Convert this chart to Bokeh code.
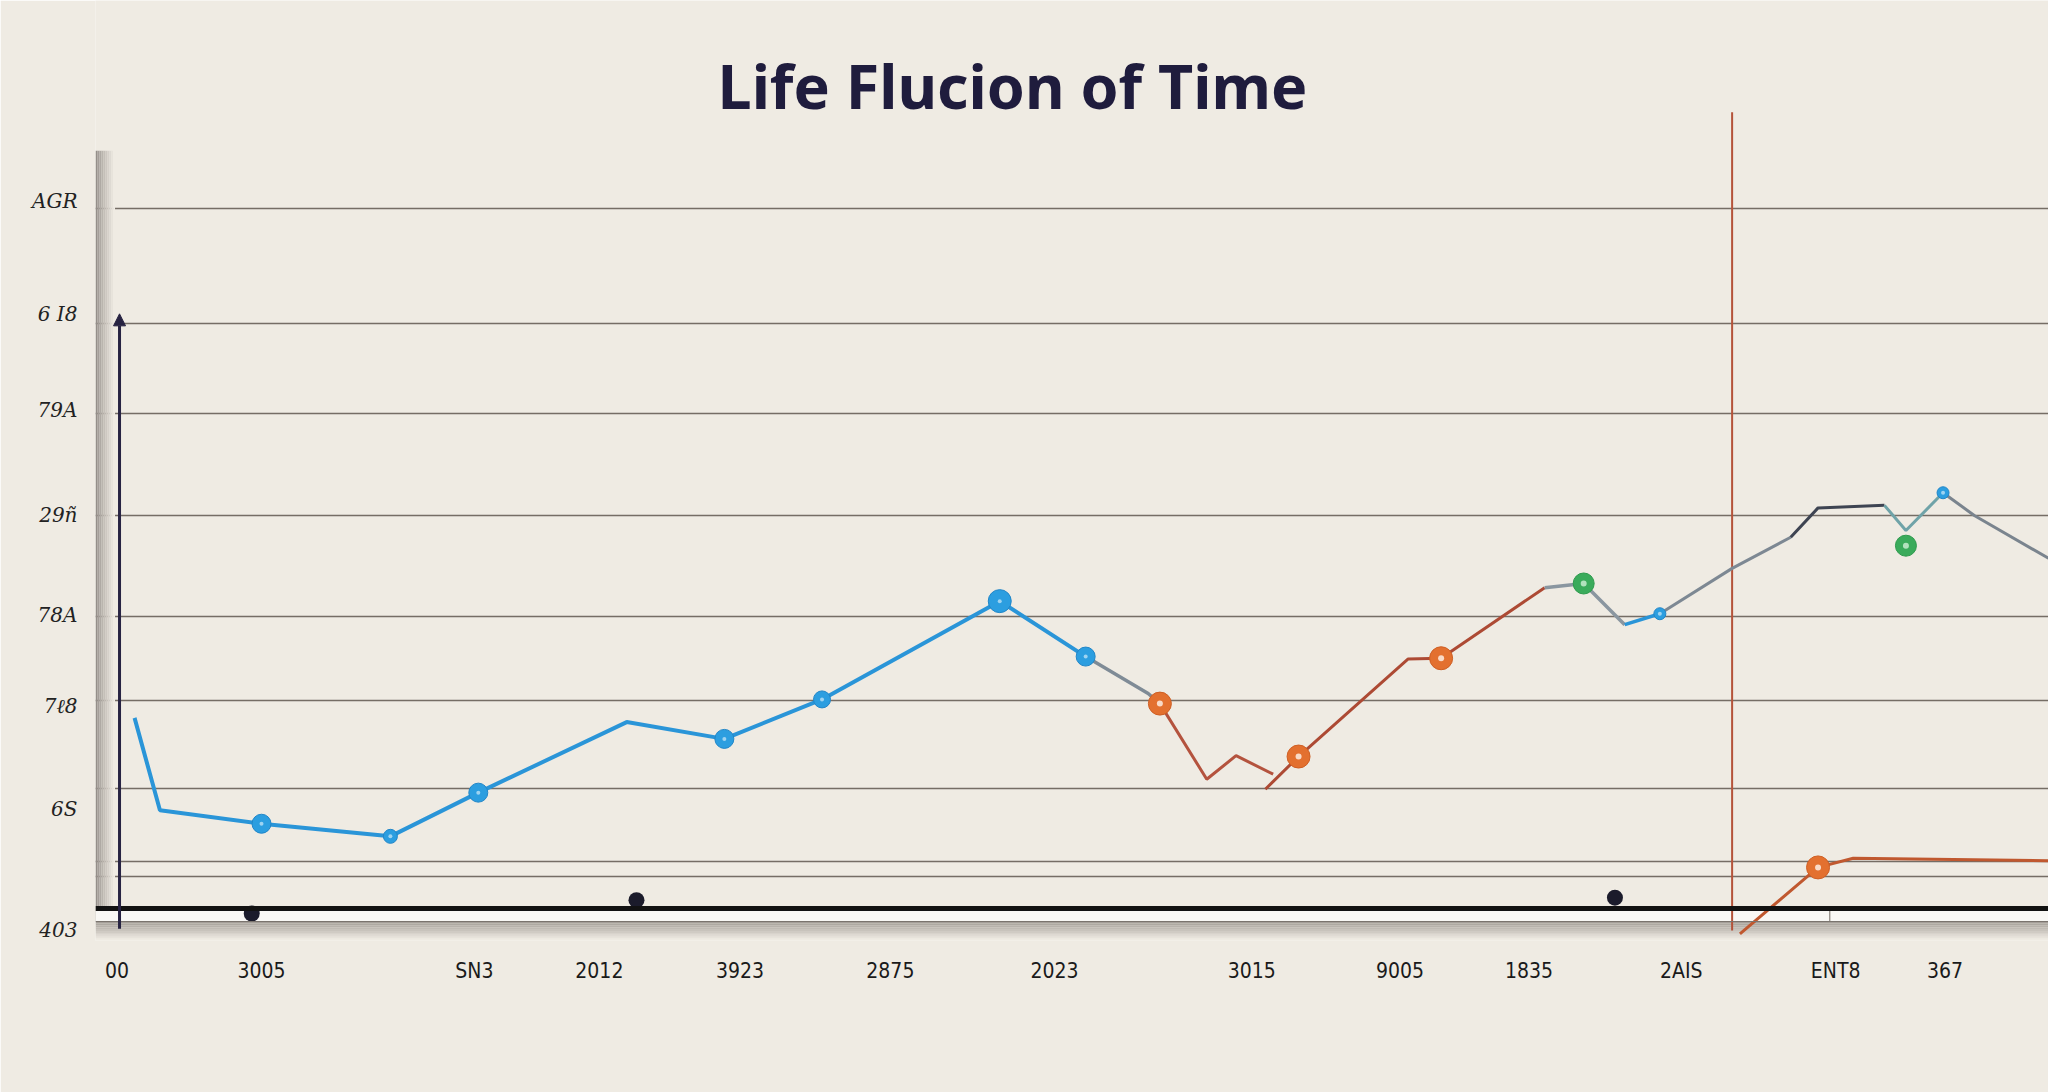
from bokeh.plotting import figure
from bokeh.models import Range1d, FixedTicker, Span, Arrow, NormalHead, Label
from bokeh.embed import file_html
from bokeh.resources import INLINE

# ---------------- data ----------------
x_tick_pos = [1.1, 8.5, 19.4, 25.8, 33.0, 40.7, 49.1, 59.2, 66.8, 73.4, 81.2, 89.1, 94.7]
x_tick_labels = ["00", "3005", "SN3", "2012", "3923", "2875", "2023", "3015", "9005", "1835", "2AIS", "ENT8", "367"]

y_tick_pos = [88.0, 74.6, 63.1, 50.6, 38.8, 27.9, 15.7, 1.2]
y_tick_labels = ["AGR", "6 I8", "79A", "29ñ", "78A", "7ℓ8", "6S", "403"]

y_grid = [87.1, 73.5, 62.7, 50.6, 38.6, 28.6, 18.1, 9.4, 7.6]

blue_x = [2.0, 3.3, 8.5, 15.1, 19.6, 27.2, 32.2, 37.2, 46.3, 50.7]
blue_y = [26.5, 15.5, 13.9, 12.4, 17.6, 26.0, 24.0, 28.7, 40.4, 33.8]
blue_mx = [8.5, 15.1, 19.6, 32.2, 37.2, 46.3, 50.7, 80.1, 94.6]
blue_my = [13.9, 12.4, 17.6, 24.0, 28.7, 40.4, 33.8, 38.9, 53.3]
blue_ms = [19, 14, 19, 19, 17, 23, 19, 12, 12]

link_x = [50.7, 53.9, 54.5]
link_y = [33.8, 29.4, 28.2]

red1_x = [54.5, 56.9, 58.4, 60.3]
red1_y = [28.2, 19.2, 22.0, 19.8]
red2_x = [59.9, 61.6, 67.2, 68.9, 74.2]
red2_y = [18.0, 21.9, 33.5, 33.6, 42.0]
red3_x = [84.2, 88.2, 90.0, 100.0]
red3_y = [0.8, 8.7, 9.8, 9.5]

gray2_x = [74.2, 76.2, 78.3]
gray2_y = [42.0, 42.5, 37.6]
blue2_x = [78.3, 80.1]
blue2_y = [37.6, 38.9]
gray3a_x = [80.1, 83.8, 86.8]
gray3a_y = [38.9, 44.3, 48.0]
gray3b_x = [86.8, 88.2, 91.6]
gray3b_y = [48.0, 51.5, 51.8]
teal_x = [91.6, 92.7, 94.6]
teal_y = [51.8, 48.8, 53.3]
gray3c_x = [94.6, 96.2, 100.0]
gray3c_y = [53.3, 50.6, 45.5]

orange_mx = [54.5, 61.6, 68.9, 88.2]
orange_my = [28.2, 21.9, 33.6, 8.7]
green_mx = [76.2, 92.7]
green_my = [42.5, 47.0]

dot_x = [8.0, 27.7, 77.8]
dot_y = [3.2, 4.8, 5.1]

baseline_y = 3.8
marker_line_x = 83.8

BG = "#efebe3"
NAVY = "#272342"


def blend(c1, c2, t):
    a = [int(c1[i:i + 2], 16) for i in (1, 3, 5)]
    b = [int(c2[i:i + 2], 16) for i in (1, 3, 5)]
    return "#" + "".join("%02x" % int(round(a[k] + (b[k] - a[k]) * t)) for k in range(3))


p = figure(width=2048, height=1092, x_range=Range1d(0, 100), y_range=Range1d(0, 111.9),
           output_backend="svg", toolbar_location=None,
           min_border_left=95, min_border_right=0, min_border_top=0, min_border_bottom=152,
           background_fill_color=BG, border_fill_color=BG, outline_line_color=None)

# axes
p.xaxis.ticker = FixedTicker(ticks=x_tick_pos)
p.xaxis.major_label_overrides = {t: l for t, l in zip(x_tick_pos, x_tick_labels)}
p.yaxis.ticker = FixedTicker(ticks=y_tick_pos)
p.yaxis.major_label_overrides = {t: l for t, l in zip(y_tick_pos, y_tick_labels)}
for ax in (p.xaxis[0], p.yaxis[0]):
    ax.axis_line_color = None
    ax.major_tick_line_color = None
    ax.minor_tick_line_color = None
    ax.major_tick_out = 0
    ax.major_tick_in = 0
p.xaxis.major_label_text_font = "DejaVu Sans Condensed"
p.xaxis.major_label_text_font_size = "21px"
p.xaxis.major_label_text_color = "#1a1a1a"
p.xaxis.major_label_standoff = 18
p.yaxis.major_label_text_font = "DejaVu Serif"
p.yaxis.major_label_text_font_style = "italic"
p.yaxis.major_label_text_font_size = "20px"
p.yaxis.major_label_text_color = "#222222"
p.yaxis.major_label_standoff = 18

p.xgrid.grid_line_color = None
p.ygrid.ticker = FixedTicker(ticks=y_grid)
p.ygrid.grid_line_color = "#5f574f"
p.ygrid.grid_line_width = 1.5
p.ygrid.grid_line_alpha = 0.85

# 3D-ish left wall (gradient from dark edge to background)
n = 10
wl = [i * 1.0 / n for i in range(n)]
wr = [(i + 1) * 1.0 / n for i in range(n)]
wc = [blend("#948e89", BG, (i / (n - 1)) ** 0.8) for i in range(n)]
p.quad(left=wl, right=wr, top=[94] * n, bottom=[2.3] * n, fill_color=wc, line_color=None)

# floor: white band, thin edge, fading shadow
p.quad(left=[0], right=[100], top=[baseline_y - 0.3], bottom=[2.26], fill_color="#f9f8f5", line_color=None)
m = 10
fb = [2.26 - (i + 1) * 2.26 / m for i in range(m)]
ft = [2.26 - i * 2.26 / m for i in range(m)]
fc = [blend("#a49e98", BG, (i / (m - 1)) ** 0.9) for i in range(m)]
p.quad(left=[0] * m, right=[100] * m, top=ft, bottom=fb, fill_color=fc, line_color=None)
p.add_layout(Span(location=2.26, dimension="width", line_color="#7a746e", line_width=1.2))

# baseline
p.add_layout(Span(location=baseline_y, dimension="width", line_color="#121212", line_width=5))

# red vertical marker line
p.segment(x0=[marker_line_x], y0=[1.2], x1=[marker_line_x], y1=[98.6], line_color="#b4533a", line_width=2)
p.segment(x0=[88.8], y0=[2.3], x1=[88.8], y1=[3.8], line_color="#8a837c", line_width=1.2)

# navy vertical axis with arrow
p.add_layout(Arrow(end=NormalHead(size=12, fill_color=NAVY, line_color=NAVY),
                   x_start=1.23, y_start=1.4, x_end=1.23, y_end=74.6,
                   line_color=NAVY, line_width=3))

# lines
p.line(blue_x, blue_y, line_color="#2a95d8", line_width=4)
p.line(link_x, link_y, line_color="#7f8b96", line_width=3.5)
p.line(red1_x, red1_y, line_color="#b4533e", line_width=3)
p.line(red2_x, red2_y, line_color="#ad4a34", line_width=3)
p.line(gray2_x, gray2_y, line_color="#8a96a0", line_width=3.5)
p.line(blue2_x, blue2_y, line_color="#2a95d8", line_width=3.5)
p.line(gray3a_x, gray3a_y, line_color="#7d8893", line_width=3)
p.line(gray3b_x, gray3b_y, line_color="#3e4452", line_width=3)
p.line(teal_x, teal_y, line_color="#6fa3a8", line_width=3)
p.line(gray3c_x, gray3c_y, line_color="#7a848e", line_width=3)
p.line(red3_x, red3_y, line_color="#c0582f", line_width=3)

# markers
p.scatter(blue_mx, blue_my, size=blue_ms, fill_color="#2c9ee0", line_color="#2186c8", line_width=1)
p.scatter(blue_mx, blue_my, size=4, fill_color="#cfe9f8", line_color=None, alpha=0.7)
p.scatter(orange_mx, orange_my, size=23, fill_color="#e3702f", line_color="#cf5f24", line_width=1)
p.scatter(orange_mx, orange_my, size=6, fill_color="#fbe6d8", line_color=None, alpha=0.9)
p.scatter(green_mx, green_my, size=21, fill_color="#3aab5b", line_color="#2e9a4d", line_width=1)
p.scatter(green_mx, green_my, size=6, fill_color="#bfe8c8", line_color=None, alpha=0.9)
p.scatter(dot_x, dot_y, size=16, fill_color="#1b1b2b", line_color=None)

# title
p.add_layout(Label(x=46.95, y=101.8, text="Life Flucion of Time", text_font="Noto Sans",
                   text_font_style="bold", text_font_size="61px", text_align="center",
                   text_baseline="middle", text_color="#1f1c3d"))

open("out.html", "w").write(file_html(p, INLINE))
